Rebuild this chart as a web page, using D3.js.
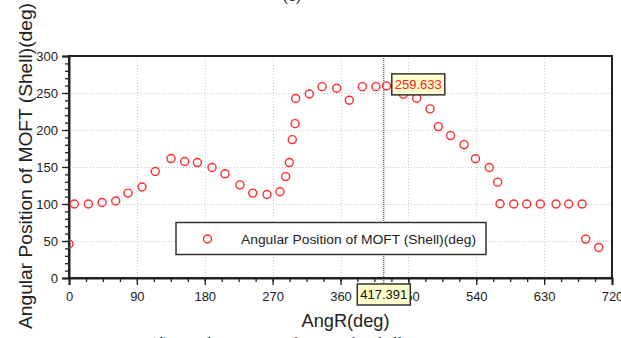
<!DOCTYPE html>
<html>
<head>
<meta charset="utf-8">
<script src="https://cdn.jsdelivr.net/npm/d3@7/dist/d3.min.js"></script>
<style>
  html, body { margin: 0; padding: 0; background: #fff; }
  svg { display: block; font-family: "Liberation Sans", Arial, sans-serif; }
</style>
</head>
<body>
<svg id="chart" width="621" height="338"></svg>
<script>
// Rotor angle (deg) and angular position of the MOFT on the shell (deg)
const angR = [0, 7, 25.6, 43.8, 61.9, 78.2, 96.8, 114.4, 135.3, 153.4, 170.2, 189.6,
  206.9, 226.7, 243.6, 262.5, 279.8, 287.3, 292.1, 296.1, 299.7, 300.5, 318.6, 335.5,
  355, 371.7, 388.9, 407, 421, 443.3, 461, 478.7, 489.7, 506, 523.8, 539, 557.3,
  568.4, 571.5, 589.7, 606.9, 625, 645.8, 662.6, 680.3, 685.1, 702.4];
const moftPos = [46, 100, 100, 102, 104, 114.7, 123, 143.9, 161.4, 157.4, 156, 149.3,
  140.8, 125.9, 114.7, 112.8, 116.5, 137, 156, 187, 208.6, 242.6, 248.6, 258.6,
  256.4, 240.2, 258.6, 258.6, 259.6, 248.3, 243, 228.5, 204.6, 192.4, 180.3, 161.2,
  149.3, 129.5, 100.3, 100, 100, 100, 100, 100, 100, 52.6, 41.3];

const xTicks = [0, 90, 180, 270, 360, 450, 540, 630, 720];
const yTicks = [0, 50, 100, 150, 200, 250, 300];

// Cursor readout
const cursorX = 417.391;
const cursorY = 259.633;

const seriesName = "Angular Position of MOFT (Shell)(deg)";

const svg = d3.select("#chart");
const W = 621, H = 338;
const m = { left: 69, right: 9, top: 56, bottom: 60 };
const pw = W - m.left - m.right, ph = H - m.top - m.bottom;

const x = d3.scaleLinear().domain([0, 720]).range([m.left, m.left + pw]);
const y = d3.scaleLinear().domain([0, 300]).range([m.top + ph, m.top]);

svg.append("defs").append("clipPath").attr("id", "plotClip")
  .append("rect").attr("x", m.left).attr("y", m.top).attr("width", pw).attr("height", ph);

// Captions of the neighbouring panels, cut by the page edges
svg.append("text").attr("x", 283).attr("y", 1).attr("font-family", "Liberation Serif, serif")
  .attr("font-size", 16).attr("fill", "#222").text("(c)");
svg.append("text").attr("x", 150).attr("y", 349).attr("font-family", "Liberation Serif, serif")
  .attr("font-size", 16).attr("fill", "#222").text("(d) Angular position of MOFT for shell");

// Grid
const grid = svg.append("g").attr("stroke", "#c8c8c8").attr("stroke-width", 1)
  .attr("stroke-dasharray", "1,2");
grid.selectAll("line.gx").data(xTicks.slice(1, -1)).join("line")
  .attr("x1", d => Math.round(x(d)) + 0.5).attr("x2", d => Math.round(x(d)) + 0.5)
  .attr("y1", m.top).attr("y2", m.top + ph);
grid.selectAll("line.gy").data(yTicks.slice(1, -1)).join("line")
  .attr("x1", m.left).attr("x2", m.left + pw)
  .attr("y1", d => Math.round(y(d)) + 0.5).attr("y2", d => Math.round(y(d)) + 0.5);

// Axes with minor ticks
const xMinor = d3.range(0, 720.1, 22.5);
const yMinor = d3.range(0, 300.1, 10);

const gx = svg.append("g").attr("transform", `translate(0,${m.top + ph})`);
gx.call(d3.axisBottom(x).tickValues(xMinor).tickSize(4).tickFormat(""));
gx.call(g => g.select(".domain").remove());
const gxMaj = svg.append("g").attr("transform", `translate(0,${m.top + ph})`)
  .call(d3.axisBottom(x).tickValues(xTicks).tickSize(7).tickPadding(7).tickFormat(d3.format("d")));

const gy = svg.append("g").attr("transform", `translate(${m.left},0)`);
gy.call(d3.axisLeft(y).tickValues(yMinor).tickSize(4).tickFormat(""));
gy.call(g => g.select(".domain").remove());
const gyMaj = svg.append("g").attr("transform", `translate(${m.left},0)`)
  .call(d3.axisLeft(y).tickValues(yTicks).tickSize(7).tickPadding(4).tickFormat(d3.format("d")));

[gx, gy, gxMaj, gyMaj].forEach(g => {
  g.selectAll("line").attr("stroke", "#222").attr("stroke-width", 1.3);
  g.selectAll(".domain").attr("stroke", "#222").attr("stroke-width", 2);
  g.selectAll("text").attr("font-size", 13).attr("fill", "#222")
    .attr("font-family", "Liberation Sans, Arial, sans-serif");
});

// Frame
svg.append("rect").attr("x", m.left).attr("y", m.top).attr("width", pw).attr("height", ph)
  .attr("fill", "none").attr("stroke", "#222").attr("stroke-width", 2);

// Cursor line
svg.append("line")
  .attr("x1", x(cursorX)).attr("x2", x(cursorX))
  .attr("y1", m.top).attr("y2", m.top + ph + 8)
  .attr("stroke", "#333").attr("stroke-width", 1).attr("stroke-dasharray", "1,1");

// Data points
const pts = angR.map((a, i) => ({ a, v: moftPos[i] }));
svg.append("g").attr("clip-path", "url(#plotClip)")
  .selectAll("circle").data(pts).join("circle")
  .attr("cx", d => x(d.a)).attr("cy", d => y(d.v)).attr("r", 4)
  .attr("fill", "none").attr("stroke", "#ff2a2a").attr("stroke-width", 1.4);

// Cursor readouts
function readout(cx, cy, label, color, anchorLeft) {
  const g = svg.append("g");
  const t = g.append("text").attr("font-size", 13).attr("fill", color).text(label);
  const bb = t.node().getBBox();
  const padX = 3, padY = 2;
  const w = bb.width + 2 * padX, h = 21;
  const left = anchorLeft ? cx : cx - w / 2;
  const top = cy - h / 2;
  g.insert("rect", "text").attr("x", left).attr("y", top).attr("width", w).attr("height", h)
    .attr("fill", "#ffffcc").attr("stroke", "#333").attr("stroke-width", 1.5);
  t.attr("x", left + padX).attr("y", top + h / 2 + 4.5);
}
readout(x(cursorX) + 8, y(cursorY) - 1.5, d3.format(".3f")(cursorY), "#ff2020", true);
readout(x(cursorX), m.top + ph + 16.5, d3.format(".3f")(cursorX), "#111", false);

// Legend
const lg = svg.append("g");
lg.append("rect").attr("x", 176).attr("y", 222.5).attr("width", 310).attr("height", 32)
  .attr("fill", "#fff").attr("stroke", "#333").attr("stroke-width", 1.5);
lg.append("circle").attr("cx", 207.5).attr("cy", 239).attr("r", 4)
  .attr("fill", "none").attr("stroke", "#ff2a2a").attr("stroke-width", 1.4);
lg.append("text").attr("x", 241).attr("y", 243.5).attr("font-size", 12.5).attr("fill", "#222")
  .attr("textLength", 235).attr("lengthAdjust", "spacingAndGlyphs").text(seriesName);

// Axis titles
svg.append("text").attr("x", 345.5).attr("y", 327).attr("text-anchor", "middle")
  .attr("font-size", 18.5).attr("fill", "#222")
  .attr("textLength", 88).attr("lengthAdjust", "spacingAndGlyphs").text("AngR(deg)");
svg.append("text").attr("transform", "translate(32,166) rotate(-90)")
  .attr("text-anchor", "middle").attr("font-size", 18.5).attr("fill", "#222")
  .attr("textLength", 326).attr("lengthAdjust", "spacingAndGlyphs").text(seriesName);
</script>
</body>
</html>
